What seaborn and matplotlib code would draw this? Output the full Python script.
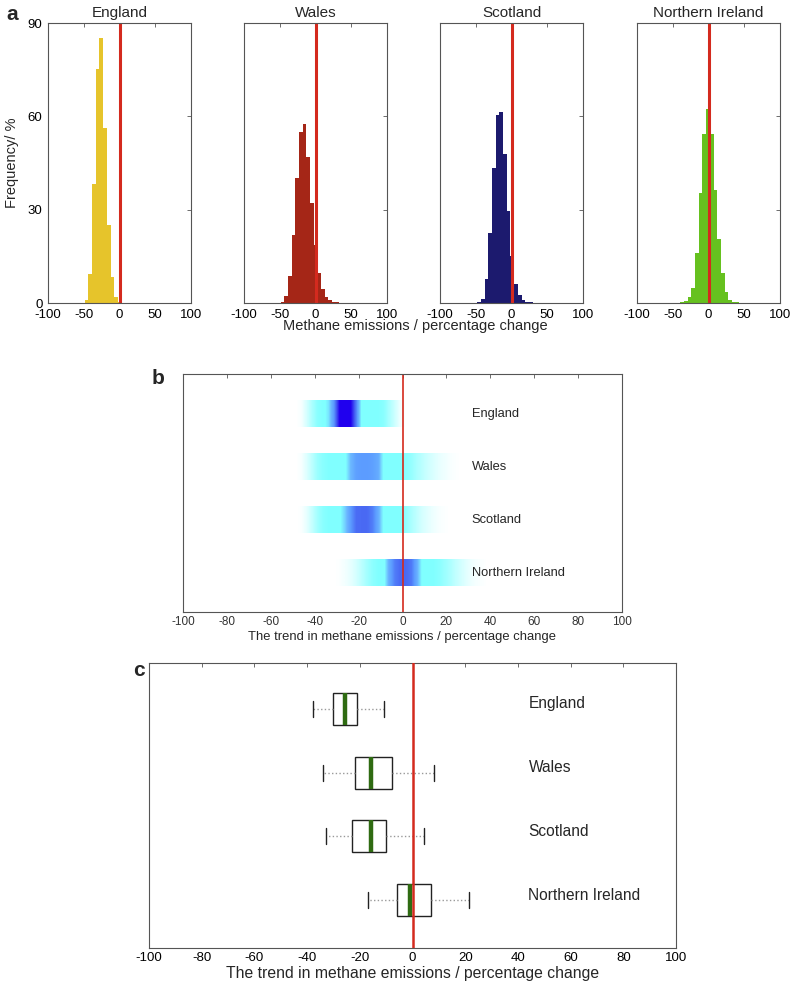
import numpy as np
import pandas as pd
import seaborn as sns
import matplotlib.pyplot as plt
from matplotlib.colors import LinearSegmentedColormap

sns.set_style('white')
plt.rcParams['font.family'] = ['Liberation Sans', 'DejaVu Sans']
plt.rcParams['axes.unicode_minus'] = False

countries = ['England', 'Wales', 'Scotland', 'Northern Ireland']
hist_colors = ['#e6c42b', '#a52617', '#1c1a6e', '#66c11f']
red = '#d42a1e'

# panel a: histogram heights (%), bins ~5.15 wide starting at hist_start
bin_width = 5.15
hist_start = [-48.6, -48.9, -47.8, -39.3]
hist_england = [0.9, 9.2, 38.2, 75.3, 85.2, 56.3, 25.0, 8.2, 1.9, 0.3, 0.1]
hist_wales = [0.3, 2.1, 8.6, 22.0, 40.3, 54.9, 57.5, 47.0, 32.2, 18.8, 9.5, 4.6, 1.9, 0.9, 0.4, 0.2, 0.1]
hist_scotland = [0.3, 1.4, 7.8, 22.6, 43.5, 60.5, 61.5, 47.8, 29.6, 15.0, 6.2, 2.5, 0.9, 0.3, 0.2]
hist_ni = [0.2, 0.5, 1.9, 4.9, 16.1, 35.4, 54.3, 62.4, 54.3, 36.3, 20.5, 9.5, 3.5, 1.1, 0.4, 0.2, 0.1]
hists = [hist_england, hist_wales, hist_scotland, hist_ni]

# panel b: intensity of the trend on a 2.5 % grid from -50 to 40
grid_lo, grid_hi = -50, 40
band_england = [0, 0.02, 0.1, 0.2, 0.28, 0.3, 0.4, 0.65, 1, 1, 1, 0.7, 0.32, 0.3, 0.3, 0.3, 0.28, 0.2,
                0.12, 0.04, 0, 0, 0, 0, 0, 0, 0, 0, 0, 0, 0, 0, 0, 0, 0, 0]
band_wales = [0, 0.02, 0.08, 0.16, 0.24, 0.28, 0.3, 0.3, 0.3, 0.32, 0.5, 0.6, 0.62, 0.62, 0.6, 0.55, 0.32, 0.3,
              0.3, 0.3, 0.28, 0.25, 0.2, 0.16, 0.12, 0.09, 0.06, 0.04, 0.02, 0.01, 0, 0, 0, 0, 0, 0]
band_scotland = [0, 0.01, 0.06, 0.14, 0.22, 0.28, 0.3, 0.3, 0.32, 0.45, 0.62, 0.75, 0.76, 0.76, 0.7, 0.55, 0.32, 0.3,
                 0.3, 0.3, 0.26, 0.2, 0.15, 0.1, 0.07, 0.04, 0.02, 0.01, 0, 0, 0, 0, 0, 0, 0, 0]
band_ni = [0, 0, 0, 0, 0, 0, 0, 0, 0.01, 0.03, 0.06, 0.1, 0.16, 0.22, 0.27, 0.3, 0.3, 0.55,
           0.7, 0.76, 0.76, 0.72, 0.55, 0.32, 0.3, 0.3, 0.28, 0.24, 0.2, 0.15, 0.11, 0.07, 0.04, 0.02, 0.01, 0]
bands = [band_england, band_wales, band_scotland, band_ni]

# panel c: lower whisker, q1, median, q3, upper whisker
box_england = [-37.8, -30.0, -25.8, -20.9, -10.8]
box_wales = [-33.9, -21.9, -15.9, -7.8, 8.1]
box_scotland = [-32.9, -22.9, -15.9, -9.9, 4.2]
box_ni = [-16.8, -5.9, -0.9, 7.2, 21.3]
boxes = [box_england, box_wales, box_scotland, box_ni]

fig = plt.figure(figsize=(7.91, 9.85), dpi=100)


def frame(ax, lw=0.8):
    for s in ax.spines.values():
        s.set_color('#555555')
        s.set_linewidth(lw)


# ---- a ----
lefts = [48, 244, 440, 637]
for i, name in enumerate(countries):
    ax = fig.add_axes([lefts[i] / 791, 1 - 303 / 985, 143 / 791, 280 / 985])
    h = hists[i]
    edges = hist_start[i] + bin_width * np.arange(len(h) + 1)
    hd = pd.DataFrame({'x': edges[:-1] + bin_width / 2, 'freq': h})
    sns.histplot(data=hd, x='x', weights='freq', bins=list(edges), color=hist_colors[i],
                 alpha=1, linewidth=0, ax=ax)
    ax.axvline(0, color=red, lw=2.2)
    ax.set_xlim(-100, 100)
    ax.set_ylim(0, 90)
    ax.set_xticks([-100, -50, 0, 50, 100])
    ax.set_yticks([0, 30, 60, 90])
    ax.tick_params(direction='in', top=True, right=True, length=3, width=0.6,
                   colors='#555555', labelcolor='black', labelsize=9.5, pad=4)
    ax.set_xlabel('')
    ax.set_ylabel('')
    if i > 0:
        ax.set_yticklabels([])
    else:
        ax.set_ylabel('Frequency/ %', fontsize=10.5, labelpad=6)
    ax.set_title(name, fontsize=11, pad=4)
    frame(ax)
fig.text(415 / 791, 1 - 326 / 985, 'Methane emissions / percentage change', ha='center',
         va='center', fontsize=10.5)
fig.text(6 / 791, 1 - 14 / 985, 'a', fontsize=15, fontweight='bold', va='center')

# ---- b ----
cmap = LinearSegmentedColormap.from_list('trend', [
    (0, '#ffffff'), (0.3, '#80ffff'), (0.34, '#80ffff'), (0.5, '#6cb8ff'),
    (0.62, '#5c9cff'), (0.76, '#4a6af4'), (1, '#2000ee')])
axb = fig.add_axes([183 / 791, 1 - 612 / 985, 439 / 791, 238 / 985])
for i, prof in enumerate(bands):
    axb.imshow(np.array([prof]), cmap=cmap, vmin=0, vmax=1, aspect='auto',
               interpolation='bilinear', extent=(grid_lo, grid_hi, i + 0.25, i - 0.25))
    axb.text(31.5, i, countries[i], va='center', ha='left', fontsize=9.3)
axb.axvline(0, color=red, lw=1.2)
axb.set_xlim(-100, 100)
axb.set_ylim(3.74, -0.755)
axb.set_xticks(np.arange(-100, 101, 20))
axb.set_yticks([])
axb.tick_params(axis='x', direction='in', top=True, length=3, width=0.6,
                colors='#555555', labelcolor='#333333', labelsize=8.5, pad=3)
axb.set_xlabel('The trend in methane emissions / percentage change', fontsize=9.4, labelpad=2)
frame(axb)
fig.text(152 / 791, 1 - 379 / 985, 'b', fontsize=15, fontweight='bold', va='center')

# ---- c ----
df = pd.DataFrame({
    'value': np.concatenate(boxes),
    'country': np.repeat(countries, 5),
})
axc = fig.add_axes([149 / 791, 1 - 948 / 985, 527 / 791, 285 / 985])
sns.boxplot(data=df, x='value', y='country', order=countries, whis=(0, 100), width=0.5,
            color='white', linecolor='#222222', linewidth=1, ax=axc,
            medianprops=dict(color='#2f6b12', linewidth=3.2),
            whiskerprops=dict(color='#999999', linestyle=':', linewidth=1),
            capprops=dict(color='#222222', linewidth=1))
axc.axvline(0, color=red, lw=1.8, zorder=5)
for i, name in enumerate(countries):
    axc.text(44, i - 0.08, name, va='center', ha='left', fontsize=11.2)
axc.set_xlim(-100, 100)
axc.set_ylim(3.75, -0.72)
axc.set_xticks(np.arange(-100, 101, 20))
axc.set_yticks([])
axc.set_ylabel('')
axc.tick_params(axis='x', direction='in', top=True, length=3, width=0.6,
                colors='#555555', labelcolor='black', labelsize=9.5, pad=3)
axc.set_xlabel('The trend in methane emissions / percentage change', fontsize=11.3, labelpad=1)
frame(axc)
fig.text(133 / 791, 1 - 670 / 985, 'c', fontsize=15, fontweight='bold', va='center')

fig.savefig('out.png', dpi=100)
